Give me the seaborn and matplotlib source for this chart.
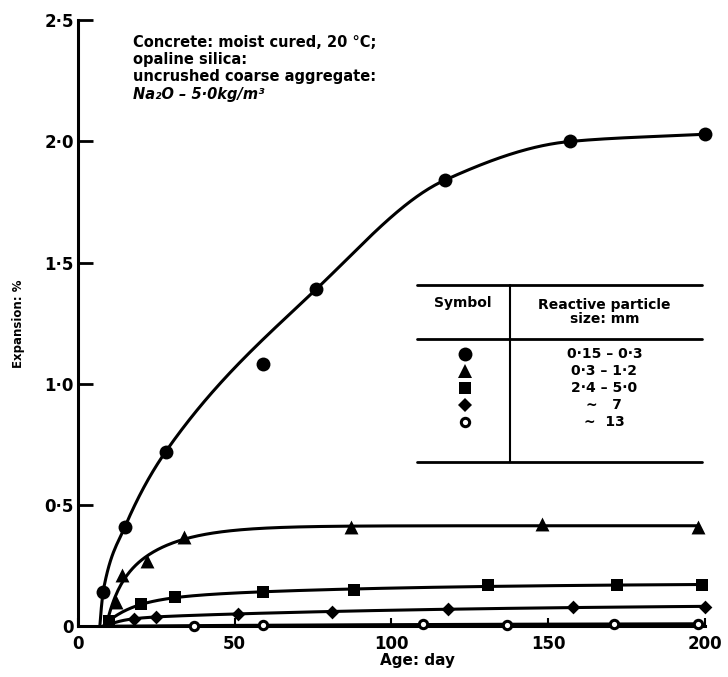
import matplotlib
matplotlib.use("Agg")
import matplotlib.pyplot as plt
import matplotlib.ticker as mticker
import seaborn as sns
import numpy as np
import pandas as pd

# Expansion of concrete vs age, for different reactive particle sizes

# readings (age in days, expansion in %)
circ_x = [8, 15, 28, 59, 76, 117, 157, 200]
circ_y = [0.14, 0.41, 0.72, 1.08, 1.39, 1.84, 2.00, 2.03]
circ_on_curve = [True, True, True, False, True, True, True, True]

tri_x = [12, 14, 22, 34, 87, 148, 198]
tri_y = [0.10, 0.21, 0.27, 0.37, 0.41, 0.42, 0.41]

sq_x = [10, 20, 31, 59, 88, 131, 172, 199]
sq_y = [0.02, 0.09, 0.12, 0.14, 0.15, 0.17, 0.17, 0.17]

dia_x = [18, 25, 51, 81, 118, 158, 200]
dia_y = [0.03, 0.04, 0.05, 0.06, 0.07, 0.08, 0.08]

open_x = [37, 59, 110, 137, 171, 198]
open_y = [0.0, 0.005, 0.01, 0.005, 0.01, 0.01]

# age at which each hand drawn curve leaves zero
curve_start = [7, 9, 8, 9, 9]
# top curve is drawn through its points, the flatter ones are smooth fits
curve_kind = ["interp", "fit", "fit", "fit", "fit"]

size_labels = ["0·15 – 0·3", "0·3 – 1·2", "2·4 – 5·0", "~   7", "~  13"]

x_ticks = [0, 50, 100, 150, 200]
y_ticks = [0, 0.5, 1.0, 1.5, 2.0, 2.5]

note_lines = ["Concrete: moist cured, 20 °C;", "opaline silica:",
              "uncrushed coarse aggregate:"]
note_last = "Na₂O – 5·0kg/m³"


def pchip(x, y, xs):
    x = np.asarray(x, float)
    y = np.asarray(y, float)
    h = np.diff(x)
    d = np.diff(y) / h
    m = np.zeros_like(y)
    for k in range(1, len(x) - 1):
        if d[k - 1] * d[k] > 0:
            w1 = 2 * h[k] + h[k - 1]
            w2 = h[k] + 2 * h[k - 1]
            m[k] = (w1 + w2) / (w1 / d[k - 1] + w2 / d[k])
    m[0] = d[0]
    m[-1] = d[-1]
    i = np.clip(np.searchsorted(x, xs) - 1, 0, len(h) - 1)
    t = (xs - x[i]) / h[i]
    h00 = 2 * t**3 - 3 * t**2 + 1
    h10 = t**3 - 2 * t**2 + t
    h01 = -2 * t**3 + 3 * t**2
    h11 = t**3 - t**2
    return h00 * y[i] + h10 * h[i] * m[i] + h01 * y[i + 1] + h11 * h[i] * m[i + 1]


def fit_curve(x, y, x0, grid):
    # smooth saturating curve  A(1-exp(-k1 t)) + B(1-exp(-k2 t)),  t = age - x0
    t = np.asarray(x, float) - x0
    y = np.asarray(y, float)
    tg = grid - x0
    best = None
    ks = np.logspace(-3, 0.7, 70)
    for i, k1 in enumerate(ks):
        for k2 in ks[i + 1:]:
            M = np.column_stack([1 - np.exp(-k1 * t), 1 - np.exp(-k2 * t)])
            coef, *_ = np.linalg.lstsq(M, y, rcond=None)
            if (coef < 0).any():
                continue
            err = ((M @ coef - y) ** 2).sum()
            if best is None or err < best[0]:
                best = (err, k1, k2, coef)
    _, k1, k2, coef = best
    return coef[0] * (1 - np.exp(-k1 * tg)) + coef[1] * (1 - np.exp(-k2 * tg))


sns.set_style("ticks")
plt.rcParams['font.family'] = ['DejaVu Sans']
plt.rcParams['font.weight'] = 'bold'
for key in ['text.color', 'axes.labelcolor', 'xtick.color', 'ytick.color', 'axes.edgecolor']:
    plt.rcParams[key] = 'black'

fig = plt.figure(figsize=(7.28, 6.77), dpi=100)
ax = fig.add_axes([0.107, 0.075, 0.861, 0.895])

series = [
    (circ_x, circ_y, circ_on_curve, "o", 10, "black"),
    (tri_x, tri_y, None, "^", 10, "black"),
    (sq_x, sq_y, None, "s", 9, "black"),
    (dia_x, dia_y, None, "D", 7, "black"),
    (open_x, open_y, None, "o", 6, "white"),
]

for (xs, ys, on, mk, ms, fc), x0, kind in zip(series, curve_start, curve_kind):
    keep = on or [True] * len(xs)
    cx = [a for a, k in zip(xs, keep) if k]
    cy = [b for b, k in zip(ys, keep) if k]
    grid = np.linspace(x0, xs[-1], 400)
    if kind == "interp":
        yy = pchip([x0] + cx, [0.0] + cy, grid)
    else:
        yy = fit_curve(cx, cy, x0, grid)
    curve = pd.DataFrame({"age": grid, "exp": yy})
    sns.lineplot(data=curve, x="age", y="exp", color="black", lw=2.2,
                 sort=False, ax=ax, clip_on=False)
    pts = pd.DataFrame({"age": xs, "exp": ys})
    sns.scatterplot(data=pts, x="age", y="exp", marker=mk, s=ms**2,
                    facecolor=fc, edgecolor="black",
                    linewidth=2.2 if fc == "white" else 0,
                    ax=ax, clip_on=False, zorder=3)

ax.set_xlim(0, 200)
ax.set_ylim(0, 2.5)
ax.set_xticks(x_ticks)
ax.set_yticks(y_ticks)
ax.yaxis.set_major_formatter(mticker.FuncFormatter(
    lambda v, p: "0" if v == 0 else f"{v:.1f}".replace(".", "·")))
ax.xaxis.set_major_formatter(mticker.FuncFormatter(lambda v, p: f"{int(v)}"))
ax.tick_params(axis="y", direction="in", length=11, width=2, labelsize=12, pad=3)
ax.tick_params(axis="x", direction="in", length=6, width=1.5, labelsize=12, pad=6)
for lab in ax.get_xticklabels() + ax.get_yticklabels():
    lab.set_fontweight("bold")
sns.despine(ax=ax)
ax.spines["left"].set_linewidth(2.2)
ax.spines["bottom"].set_linewidth(2.2)

ax.set_xlabel("Age: day", fontsize=11, fontweight="bold")
ax.xaxis.set_label_coords(0.542, -0.045)
ax.set_ylabel("Expansion: %", fontsize=8.5, fontweight="bold")
ax.yaxis.set_label_coords(-0.085, 0.5)

# note block top left
ax.text(0.088, 0.975, "\n".join(note_lines), transform=ax.transAxes,
        fontsize=10.5, fontweight="bold", va="top", ha="left", linespacing=1.15)
ax.text(0.088, 0.975 - 3 * 0.0285, note_last, transform=ax.transAxes,
        fontsize=10.5, fontweight="bold", style="italic", va="top", ha="left")

# symbol table
tr = ax.transAxes
for yy in [0.563, 0.474, 0.271]:
    ax.plot([0.541, 0.995], [yy, yy], color="black", lw=2, transform=tr, clip_on=False)
ax.plot([0.689, 0.689], [0.563, 0.271], color="black", lw=1.5, transform=tr, clip_on=False)
ax.text(0.614, 0.533, "Symbol", transform=tr, fontsize=10, fontweight="bold",
        ha="center", va="center")
ax.text(0.84, 0.518, "Reactive particle\nsize: mm", transform=tr, fontsize=10,
        fontweight="bold", ha="center", va="center", linespacing=1.0)
row_y = [0.449, 0.421, 0.393, 0.365, 0.337]
for (xs, ys, on, mk, ms, fc), lab, ry in zip(series, size_labels, row_y):
    ax.plot([0.617], [ry], marker=mk, ms=ms, mfc=fc, mec="black",
            mew=2.2 if fc == "white" else 0, transform=tr, clip_on=False)
    ax.text(0.84, ry, lab, transform=tr, fontsize=10, fontweight="bold",
            ha="center", va="center")

fig.savefig("out.png", dpi=100)
